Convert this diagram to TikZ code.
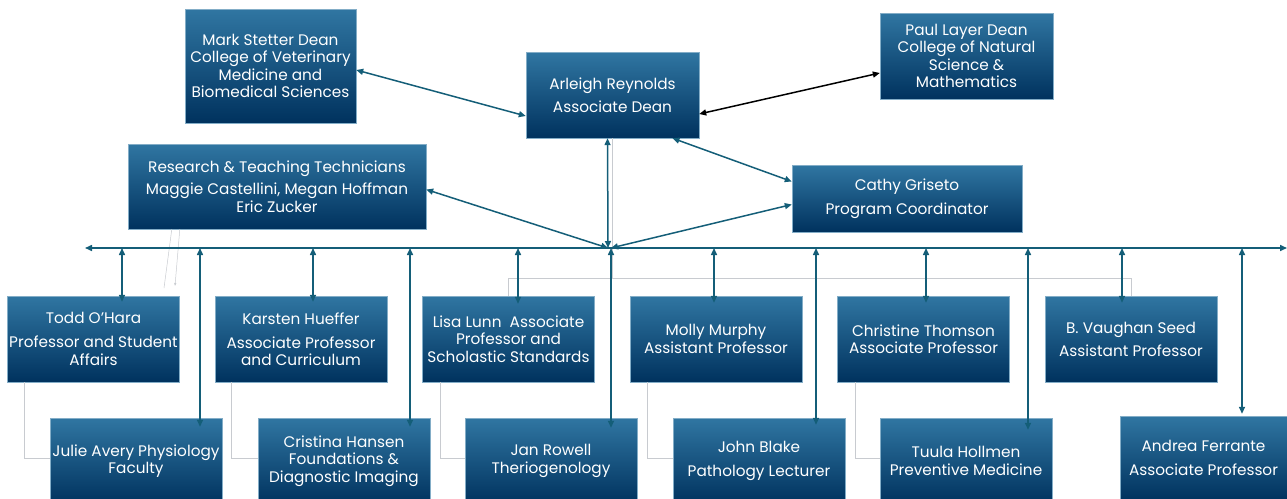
\documentclass[tikz,border=0pt]{standalone}
\usepackage{fontspec}
\setmainfont{Poppins}
\usetikzlibrary{arrows.meta}
\definecolor{boxtop}{RGB}{48,118,162}
\definecolor{boxbot}{RGB}{0,50,94}
\definecolor{linkc}{RGB}{20,94,120}
\definecolor{guidec}{RGB}{200,203,208}
\begin{document}
\begin{tikzpicture}[x=1pt,y=-1pt,
  box/.style={top color=boxtop,bottom color=boxbot,draw=boxtop!60!white,line width=0.4pt,
    text=white,align=center,font=\fontsize{15.3}{17.5}\selectfont,inner sep=0pt},
  r1/.style={box,minimum width=172pt,minimum height=86pt},
  r2/.style={box,minimum width=172pt,minimum height=86pt},
  link/.style={draw=linkc,line width=1.5pt,{Triangle[length=7pt,width=6pt]}-{Triangle[length=7pt,width=6pt]}},
  blink/.style={draw=black,line width=1.5pt,{Triangle[length=7pt,width=6pt]}-{Triangle[length=7pt,width=6pt]}},
  guide/.style={draw=guidec,line width=1pt}]
\useasboundingbox (0,0) rectangle (1287,498);

% boxes
\node[box,minimum width=171pt,minimum height=114pt] (mark) at (270.5,66) {Mark Stetter Dean\\College of Veterinary\\Medicine and\\Biomedical Sciences};
\node[box,minimum width=173pt,minimum height=86pt] (arleigh) at (612.5,95) {Arleigh Reynolds\\[5.5pt]Associate Dean};
\node[box,minimum width=173pt,minimum height=86pt] (paul) at (966.5,56) {Paul Layer Dean\\College of Natural\\Science \&\\Mathematics};
\node[box,minimum width=298pt,minimum height=85pt] (research) at (277,186.5) {Research \& Teaching Technicians\\[4.5pt]Maggie Castellini, Megan Hoffman\\Eric Zucker};
\node[box,minimum width=230pt,minimum height=67pt] (cathy) at (907,198.5) {Cathy Griseto\\[6pt]Program Coordinator};

\node[r1] (todd) at (93.5,339) {Todd O’Hara\\[6.5pt]Professor and Student\\Affairs};
\node[r1] (karsten) at (301,339) {Karsten Hueffer\\[6.5pt]Associate Professor\\and Curriculum};
\node[r1] (lisa) at (508.5,339) {Lisa Lunn\ \ Associate\\Professor and\\Scholastic Standards};
\node[r1] (molly) at (716,339) {Molly Murphy\\Assistant Professor};
\node[r1] (christine) at (923.5,339) {Christine Thomson\\Associate Professor};
\node[r1] (vaughan) at (1131,339) {B. Vaughan Seed\\[5.5pt]Assistant Professor};

\node[r2] (julie) at (136,461) {Julie Avery Physiology\\Faculty};
\node[r2] (cristina) at (344,461) {Cristina Hansen\\Foundations \&\\Diagnostic Imaging};
\node[r2] (jan) at (551,461) {Jan Rowell\\Theriogenology};
\node[r2] (john) at (759,461) {John Blake\\[6pt]Pathology Lecturer};
\node[r2] (tuula) at (966,461) {Tuula Hollmen\\Preventive Medicine};
\node[box,minimum width=167pt,minimum height=84pt] (andrea) at (1203.5,458) {Andrea Ferrante\\[6pt]Associate Professor};

% guide lines (gray)
\coordinate (g0) at (612,278);
\draw[guide] (arleigh.south -| g0) -- (g0);
\draw[guide] (lisa.north) |- (vaughan.north |- g0) -- (vaughan.north);
\draw[guide] ([xshift=17pt]todd.south west) |- ([yshift=3pt]julie.west);
\draw[guide] ([xshift=17pt]karsten.south west) |- ([yshift=3pt]cristina.west);
\draw[guide] ([xshift=18pt]lisa.south west) |- ([yshift=3pt]jan.west);
\draw[guide] ([xshift=18pt]molly.south west) |- ([yshift=3pt]john.west);
\draw[guide] ([xshift=18pt]christine.south west) |- ([yshift=3pt]tuula.west);
\draw[draw=guidec,line width=0.5pt] ([xshift=44pt]research.south west) -- (164,288);
\draw[draw=guidec,line width=0.5pt,-{Triangle[length=3pt,width=2pt]}] ([xshift=52pt]research.south west) -- (175,286);

% bus
\coordinate (busL) at (85,248);
\coordinate (busR) at (1287,248);
\coordinate (hub) at (608,248);
\draw[link] (busL) -- (busR);

% upper links
\draw[link] ([yshift=-21pt]arleigh.west) -- ([yshift=-4pt]mark.east);
\draw[blink] ([yshift=-19pt]arleigh.east) -- ([yshift=-17pt]paul.west);
\draw[link] ([xshift=-5pt]arleigh.south) -- (hub);
\draw[link] ([xshift=60pt]arleigh.south) -- ([yshift=17pt]cathy.west);
\draw[link] ([yshift=-3pt]research.east) -- (hub);
\draw[link] ([yshift=-6pt]cathy.west) -- ([xshift=3pt]hub);

% links from bus to staff
\foreach \x/\n/\d in {122/todd/6,313/karsten/6,518/lisa/8,714/molly/7,926/christine/7,1122/vaughan/7}{
  \coordinate (b\n) at (\x,248);
  \draw[link] (b\n) -- ([yshift=-\d pt]b\n |- \n.north);
}
\foreach \x/\n/\d in {200/julie/9,410/cristina/9,611/jan/10,816/john/7,1028/tuula/12,1242/andrea/-2}{
  \coordinate (b\n) at (\x,248);
  \draw[link] (b\n) -- ([yshift=-\d pt]b\n |- \n.north);
}
\end{tikzpicture}
\end{document}
